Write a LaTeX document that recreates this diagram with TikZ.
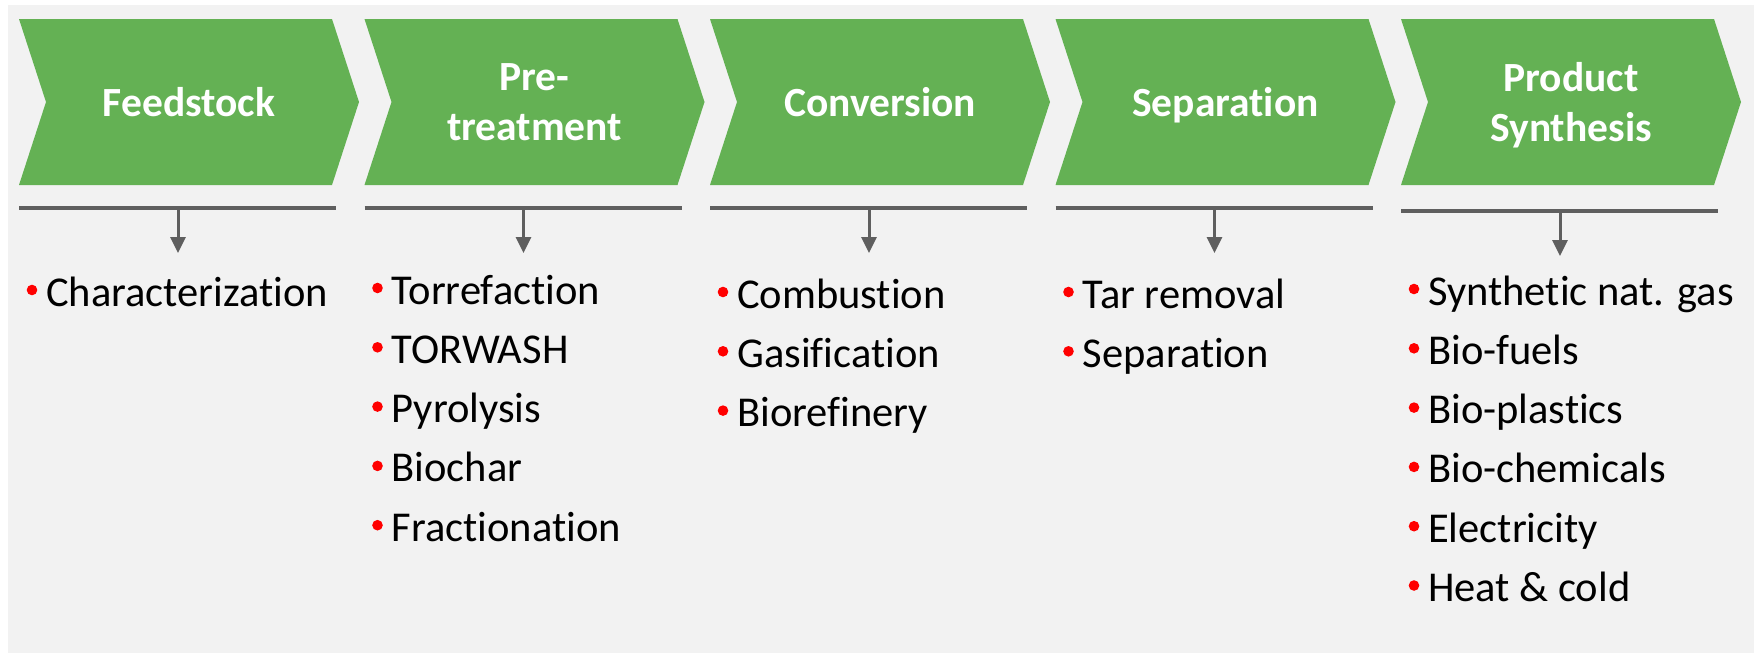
\documentclass[tikz,border=0pt]{standalone}
\usepackage{fontspec}
\setmainfont{Carlito}[Ligatures=NoCommon]
\usetikzlibrary{arrows.meta}
\definecolor{chevgreen}{RGB}{100,177,84}
\definecolor{bargray}{RGB}{95,95,95}
\definecolor{bggray}{RGB}{242,242,242}
\definecolor{bulred}{RGB}{255,0,0}
\newcommand\myhead{\fontsize{41.5}{50}\selectfont\bfseries}
\newcommand\myitem{\fontsize{42.5}{50}\selectfont}
\tikzset{
  chev/.style={fill=chevgreen, draw=none},
  head/.style={text=white, font=\myhead, align=center, text depth=0pt, inner sep=0pt},
  item/.style={anchor=base west, inner sep=0pt, font=\myitem, text=black},
  bar/.style={draw=bargray, line width=4pt},
  conn/.style={draw=bargray, line width=3pt, -{Triangle[width=15pt,length=16pt]}},
  bul/.style={fill=bulred, draw=none}
}
\begin{document}
\begin{tikzpicture}[x=1pt,y=-1pt]
\useasboundingbox (0,0) rectangle (1754,653);
\fill[white] (0,0) rectangle (1754,653);
\fill[bggray] (8,5) rectangle (1754,653);
% chevrons, bars, arrows
\foreach \i/\lab/\by in {0/{Feedstock}/208, 1/{Pre-\\treatment}/208, 2/{Conversion}/208, 3/{Separation}/208, 4/{Product\\Synthesis}/211}{
  \pgfmathsetmacro{\L}{19+345.5*\i}
  \fill[chev] (\L,19) -- (\L+313,19) -- (\L+340,102) -- (\L+313,185) -- (\L,185) -- (\L+27,102) -- cycle;
  \node[head] (h\i) at (\L+170,102) {\lab};
  \coordinate (bl\i) at (\L,\by);
  \coordinate (br\i) at (\L+317,\by);
  \draw[bar] (bl\i) -- (br\i);
  \coordinate (a\i) at (\L+159,\by);
  \coordinate (t\i) at (\L+159,\by+45);
  \draw[conn] (a\i) -- (t\i);
}
% items
\foreach \t [count=\j from 0] in {Characterization}{
  \node[item] (c0-\j) at (46,306+59.3*\j) {\t};
  \fill[bul] ([shift={(-14,-16)}]c0-\j.base west) circle (5.3pt);
}
\foreach \t [count=\j from 0] in {Torrefaction,TORWASH,Pyrolysis,Biochar,Fractionation}{
  \node[item] (c1-\j) at (391.5,304+59.3*\j) {\t};
  \fill[bul] ([shift={(-14,-16)}]c1-\j.base west) circle (5.3pt);
}
\foreach \t [count=\j from 0] in {Combustion,Gasification,Biorefinery}{
  \node[item] (c2-\j) at (737,308+59.3*\j) {\t};
  \fill[bul] ([shift={(-14,-16)}]c2-\j.base west) circle (5.3pt);
}
\foreach \t [count=\j from 0] in {Tar removal,Separation}{
  \node[item] (c3-\j) at (1082.5,308+59.3*\j) {\t};
  \fill[bul] ([shift={(-14,-16)}]c3-\j.base west) circle (5.3pt);
}
\foreach \t [count=\j from 0] in {Synthetic nat. gas,Bio-fuels,Bio-plastics,Bio-chemicals,Electricity,Heat \& cold}{
  \node[item] (c4-\j) at (1428,305+59.3*\j) {\t};
  \fill[bul] ([shift={(-14,-16)}]c4-\j.base west) circle (5.3pt);
}
\end{tikzpicture}
\end{document}
